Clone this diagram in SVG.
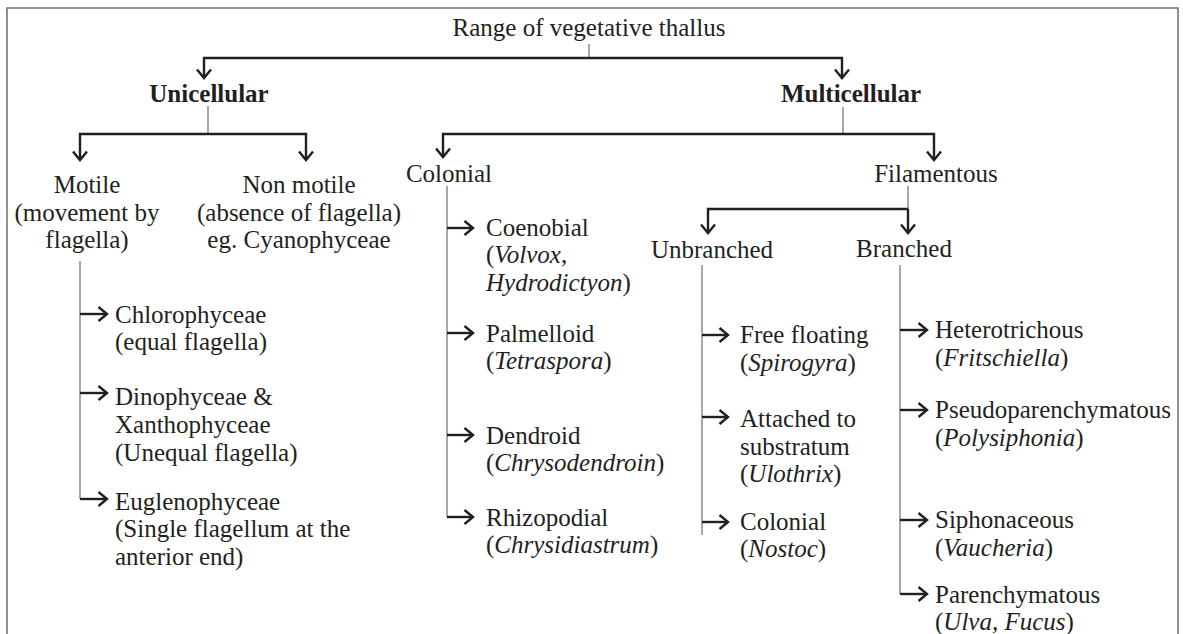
<svg xmlns="http://www.w3.org/2000/svg" width="1183" height="634" viewBox="0 0 1183 634" font-family="Liberation Serif, serif">
<style>
text{font-family:'Liberation Serif',serif;font-size:25px;fill:#231f20}
.b{font-weight:bold}
.i{font-style:italic}
.m{text-anchor:middle}
.thick{fill:none;stroke:#231f20;stroke-width:2.4}
.thin{fill:none;stroke:#6d6e71;stroke-width:1.2}
.arr{marker-end:url(#ah)}
</style>
<defs>
<marker id="ah" markerUnits="userSpaceOnUse" markerWidth="16" markerHeight="18" refX="10" refY="8" orient="auto" overflow="visible">
<path d="M1.5,1 L10,8 L1.5,15" fill="none" stroke="#231f20" stroke-width="2.4"/>
</marker>
</defs>
<rect x="7" y="8" width="1171" height="660" fill="none" stroke="#6d6e71" stroke-width="1.5"/>
<g id="connectors">
<path class="thin" d="M589,44 V58"/>
<path class="thick arr" d="M589,58 H204 V78"/>
<path class="thick arr" d="M589,58 H842 V78"/>
<path class="thin" d="M208,106 V134"/>
<path class="thick arr" d="M208,134 H80 V160"/>
<path class="thick arr" d="M208,134 H306 V160"/>
<path class="thin" d="M80,261 V499"/>
<path class="thick arr" d="M80,314 H107"/>
<path class="thick arr" d="M80,393 H107"/>
<path class="thick arr" d="M80,499 H107"/>
<path class="thin" d="M843,107 V134"/>
<path class="thick arr" d="M843,134 H443 V157"/>
<path class="thick arr" d="M843,134 H934 V160"/>
<path class="thin" d="M447,186 V517"/>
<path class="thick arr" d="M447,228 H473"/>
<path class="thick arr" d="M447,333 H473"/>
<path class="thick arr" d="M447,435 H473"/>
<path class="thick arr" d="M447,517 H473"/>
<path class="thin" d="M908,186 V209"/>
<path class="thick arr" d="M908,209 H708 V233"/>
<path class="thick arr" d="M908,209 V233"/>
<path class="thin" d="M702,265 V535"/>
<path class="thick arr" d="M702,335 H728"/>
<path class="thick arr" d="M702,417 H728"/>
<path class="thick arr" d="M702,522 H728"/>
<path class="thin" d="M900,265 V594"/>
<path class="thick arr" d="M900,330 H927"/>
<path class="thick arr" d="M900,410 H927"/>
<path class="thick arr" d="M900,520 H927"/>
<path class="thick arr" d="M900,594 H927"/>
</g>
<g id="root"><text class="m" x="589" y="36">Range of vegetative thallus</text></g>
<g id="unicellular"><text class="m b" x="209" y="102">Unicellular</text></g>
<g id="multicellular"><text class="m b" x="851" y="102">Multicellular</text></g>
<g id="motile"><text class="m" x="87" y="193">Motile<tspan x="87" dy="28">(movement by</tspan><tspan x="87" dy="27">flagella)</tspan></text></g>
<g id="nonmotile"><text class="m" x="299" y="193">Non motile<tspan x="299" dy="28">(absence of flagella)</tspan><tspan x="299" dy="27">eg. Cyanophyceae</tspan></text></g>
<g id="chlorophyceae"><text x="115" y="323">Chlorophyceae<tspan x="115" dy="27">(equal flagella)</tspan></text></g>
<g id="dinophyceae"><text x="115" y="405">Dinophyceae &amp;<tspan x="115" dy="28">Xanthophyceae</tspan><tspan x="115" dy="28">(Unequal flagella)</tspan></text></g>
<g id="euglenophyceae"><text x="115" y="510">Euglenophyceae<tspan x="115" dy="27">(Single flagellum at the</tspan><tspan x="115" dy="28">anterior end)</tspan></text></g>
<g id="colonial"><text class="m" x="449" y="182">Colonial</text></g>
<g id="coenobial"><text x="486" y="236">Coenobial<tspan x="486" dy="27">(</tspan><tspan class="i">Volvox</tspan>,<tspan x="486" dy="28" class="i">Hydrodictyon</tspan>)</text></g>
<g id="palmelloid"><text x="486" y="342">Palmelloid<tspan x="486" dy="27">(</tspan><tspan class="i">Tetraspora</tspan>)</text></g>
<g id="dendroid"><text x="486" y="444">Dendroid<tspan x="486" dy="27">(</tspan><tspan class="i">Chrysodendroin</tspan>)</text></g>
<g id="rhizopodial"><text x="486" y="526">Rhizopodial<tspan x="486" dy="27">(</tspan><tspan class="i">Chrysidiastrum</tspan>)</text></g>
<g id="filamentous"><text class="m" x="936" y="182">Filamentous</text></g>
<g id="unbranched"><text class="m" x="712" y="258">Unbranched</text></g>
<g id="branched"><text class="m" x="904" y="257">Branched</text></g>
<g id="freefloating"><text x="740" y="343">Free floating<tspan x="740" dy="28">(</tspan><tspan class="i">Spirogyra</tspan>)</text></g>
<g id="attached"><text x="740" y="427">Attached to<tspan x="740" dy="28">substratum</tspan><tspan x="740" dy="27">(</tspan><tspan class="i">Ulothrix</tspan>)</text></g>
<g id="colonial2"><text x="740" y="530">Colonial<tspan x="740" dy="27">(</tspan><tspan class="i">Nostoc</tspan>)</text></g>
<g id="heterotrichous"><text x="935" y="338">Heterotrichous<tspan x="935" dy="28">(</tspan><tspan class="i">Fritschiella</tspan>)</text></g>
<g id="pseudoparenchymatous"><text x="935" y="418">Pseudoparenchymatous<tspan x="935" dy="28">(</tspan><tspan class="i">Polysiphonia</tspan>)</text></g>
<g id="siphonaceous"><text x="935" y="528">Siphonaceous<tspan x="935" dy="28">(</tspan><tspan class="i">Vaucheria</tspan>)</text></g>
<g id="parenchymatous"><text x="935" y="603">Parenchymatous<tspan x="935" dy="27">(</tspan><tspan class="i">Ulva, Fucus</tspan>)</text></g>
</svg>
